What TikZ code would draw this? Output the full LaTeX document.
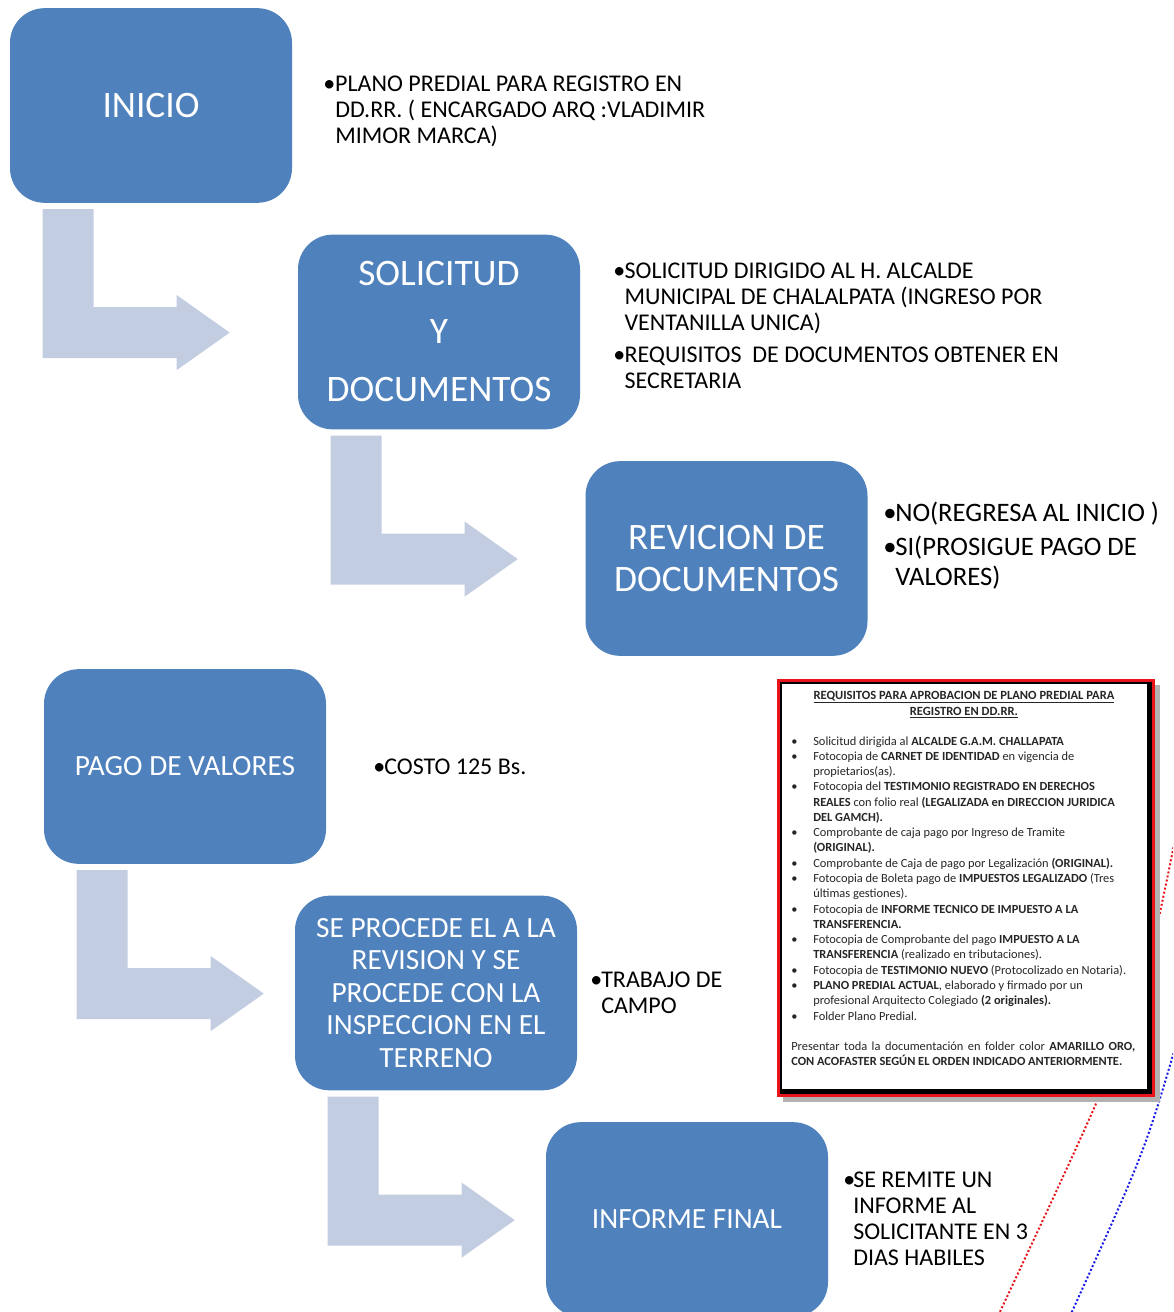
\documentclass[tikz,border=0pt]{standalone}
\usepackage{fontspec}
\setmainfont{Carlito}
\definecolor{boxblue}{HTML}{4F81BD}
\definecolor{arrowc}{HTML}{C3CDE1}
\definecolor{redline}{HTML}{E8141B}
\definecolor{blueline}{HTML}{1A1AE6}
\begin{document}
\begin{tikzpicture}[x=0.75pt,y=-0.75pt,
  stepbox/.style={rectangle, rounded corners=26pt, fill=boxblue, text=white,
    minimum width=211.5pt, minimum height=146pt, inner sep=0pt, align=center},
  bentarrow/.style={fill=arrowc},
  side/.style={inner sep=0pt, anchor=base west, font=\fontsize{18}{19.5}\selectfont},
  dotline/.style={line width=1.5pt, dash pattern=on 1.5pt off 1.6pt}]
\useasboundingbox (0,0) rectangle (1173,1312);
\clip (0,0) rectangle (1173,1312);

% dotted curves (behind the document image)
\draw[dotline, redline] (1176,835) .. controls (1140,1013) .. (998,1316);
\draw[dotline, blueline] (1176,1045) .. controls (1144,1153) .. (1070,1316);

% main boxes
\node[stepbox, font=\fontsize{28}{35}\selectfont] (inicio) at (151,105.5) {INICIO};
\node[stepbox, font=\fontsize{28}{43.5}\selectfont] (sol) at (439,332) {SOLICITUD\\Y\\DOCUMENTOS};
\node[stepbox, font=\fontsize{28}{31}\selectfont] (rev) at (726.5,558.5) {REVICION DE\\DOCUMENTOS};
\node[stepbox, font=\fontsize{22}{26}\selectfont] (pago) at (185,766.5) {PAGO DE VALORES};
\node[stepbox, font=\fontsize{22}{24.4}\selectfont] (insp) at (436,993) {SE PROCEDE EL A LA\\REVISION Y SE\\PROCEDE CON LA\\INSPECCION EN EL\\TERRENO};
\node[stepbox, font=\fontsize{22}{26}\selectfont] (inf) at (687,1219.5) {INFORME FINAL};

% bent arrows between boxes
\foreach \src in {inicio, sol, pago, insp}{
  \begin{scope}[shift={(\src.south west)}]
    \fill[bentarrow] (33,6) -- (84,6) -- (84,104) -- (167,104) -- (167,92)
      -- (220,129.5) -- (167,167) -- (167,155) -- (33,155) -- cycle;
  \end{scope}
}

% side texts
\node[side] (t1) at (323,92) {\begin{tabular}[t]{@{}p{9pt}@{}l@{}}%
•&PLANO PREDIAL PARA REGISTRO EN\\
&DD.RR. ( ENCARGADO ARQ :VLADIMIR\\
&MIMOR MARCA)\end{tabular}};
\node[side] (t2) at (613,279) {\begin{tabular}[t]{@{}p{8.5pt}@{}l@{}}%
•&SOLICITUD DIRIGIDO AL H. ALCALDE\\
&MUNICIPAL DE CHALALPATA (INGRESO POR\\
&VENTANILLA UNICA)\\[4pt]
•&REQUISITOS \ DE DOCUMENTOS OBTENER EN\\
&SECRETARIA\end{tabular}};
\node[side, font=\fontsize{20}{22.5}\selectfont] (t3) at (883,521) {\begin{tabular}[t]{@{}p{9pt}@{}l@{}}%
•&NO(REGRESA AL INICIO )\\[3pt]
•&SI(PROSIGUE PAGO DE\\
&VALORES)\end{tabular}};
\node[side] (t4) at (373,774) {\begin{tabular}[t]{@{}p{8.25pt}@{}l@{}}%
•&COSTO 125 Bs.\end{tabular}};
\node[side] (t5) at (590,987) {\begin{tabular}[t]{@{}p{8.25pt}@{}l@{}}%
•&TRABAJO DE\\
&CAMPO\end{tabular}};
\node[side] (t6) at (843,1187) {\begin{tabular}[t]{@{}p{7.5pt}@{}l@{}}%
•&SE REMITE UN\\
&INFORME AL\\
&SOLICITANTE EN 3\\
&DIAS HABILES\end{tabular}};

% requirements document
\fill[black!30] (783,685) rectangle (1160,1102);
\fill[redline] (777,679) rectangle (1155,1097);
\fill[black] (780,682) rectangle (1152,1094);
\fill[white] (782,684) rectangle (1147,1089);
\node[inner sep=0pt, anchor=base, text=black!85,
  font=\bfseries\fontsize{9.4}{12}\selectfont] (reqtitle) at (964,699)
  {\begin{tabular}[t]{@{}c@{}}\underline{REQUISITOS PARA APROBACION DE PLANO PREDIAL PARA}\\
  \underline{REGISTRO EN DD.RR.}\end{tabular}};
\node[inner sep=0pt, anchor=base west, text=black!85,
  font=\fontsize{9.3}{11.46}\selectfont] (reqlist) at (791,745)
  {\begin{tabular}[t]{@{}p{16.5pt}@{}l@{}}%
•&Solicitud dirigida al \textbf{ALCALDE G.A.M. CHALLAPATA}\\
•&Fotocopia de \textbf{CARNET DE IDENTIDAD} en vigencia de\\
&propietarios(as).\\
•&Fotocopia del \textbf{TESTIMONIO REGISTRADO EN DERECHOS}\\
&\textbf{REALES} con folio real \textbf{(LEGALIZADA en DIRECCION JURIDICA}\\
&\textbf{DEL GAMCH).}\\
•&Comprobante de caja pago por Ingreso de Tramite\\
&\textbf{(ORIGINAL).}\\
•&Comprobante de Caja de pago por Legalización \textbf{(ORIGINAL).}\\
•&Fotocopia de Boleta pago de \textbf{IMPUESTOS LEGALIZADO} (Tres\\
&últimas gestiones).\\
•&Fotocopia de \textbf{INFORME TECNICO DE IMPUESTO A LA}\\
&\textbf{TRANSFERENCIA.}\\
•&Fotocopia de Comprobante del pago \textbf{IMPUESTO A LA}\\
&\textbf{TRANSFERENCIA} (realizado en tributaciones).\\
•&Fotocopia de \textbf{TESTIMONIO NUEVO} (Protocolizado en Notaria).\\
•&\textbf{PLANO PREDIAL ACTUAL}, elaborado y firmado por un\\
&profesional Arquitecto Colegiado \textbf{(2 originales).}\\
•&Folder Plano Predial.\\
\multicolumn{2}{@{}l@{}}{}\\
\multicolumn{2}{@{}l@{}}{\makebox[258pt][s]{Presentar toda la documentación en folder color \textbf{AMARILLO ORO,}}}\\
\multicolumn{2}{@{}l@{}}{\textbf{CON ACOFASTER SEGÚN EL ORDEN INDICADO ANTERIORMENTE.}}
\end{tabular}};
\end{tikzpicture}
\end{document}
